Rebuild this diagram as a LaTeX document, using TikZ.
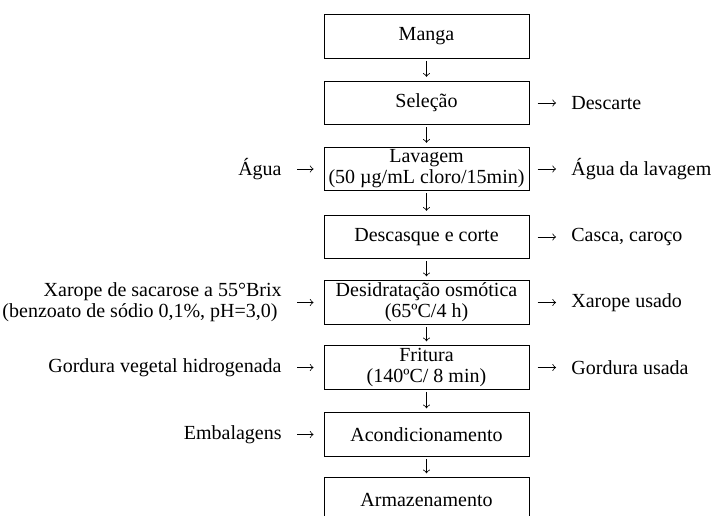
\documentclass[tikz,border=0pt]{standalone}
\usepackage{fontspec}
\setmainfont{Liberation Serif}
\newcommand{\boxtxt}[1]{\parbox[c][18pt][c]{100pt}{\centering #1}}
\begin{document}
\begin{tikzpicture}[x=0.5pt,y=-0.5pt,
  txt/.style={font=\fontsize{10}{10.5}\selectfont},
  box/.style={txt, draw, line width=0.5pt, minimum width=102.5pt, minimum height=21.75pt, inner sep=0pt},
  lab/.style={txt, inner sep=0pt},
  down/.style={-to, line width=0.4pt, shorten <=1pt, shorten >=2pt},
  inarr/.style={-to, line width=0.4pt, shorten <=7.5pt, shorten >=5pt},
  outarr/.style={-to, line width=0.4pt, shorten <=4pt, shorten >=7.5pt}]
\useasboundingbox (0,0) rectangle (712,515);
% main column
\node[box] (manga) at (426.5,36.5) {\boxtxt{Manga}};
\node[box] (sel) at (426.5,103) {\boxtxt{Seleção}};
\node[box] (lav) at (426.5,169) {\boxtxt{Lavagem\\(50 µg/mL cloro/15min)}};
\node[box] (desc) at (426.5,237) {\boxtxt{Descasque e corte}};
\node[box] (desid) at (426.5,302.5) {\boxtxt{Desidratação osmótica\\(65ºC/4 h)}};
\node[box] (frit) at (426.5,367.5) {\boxtxt{Fritura\\(140ºC/ 8 min)}};
\node[box] (acond) at (426.5,434.5) {\boxtxt{Acondicionamento}};
\node[box] (armaz) at (426.5,499.5) {\boxtxt{Armazenamento}};
% down arrows
\draw[down] (manga) -- (sel);
\draw[down] (sel) -- (lav);
\draw[down] (lav) -- (desc);
\draw[down] (desc) -- (desid);
\draw[down] (desid) -- (frit);
\draw[down] (frit) -- (acond);
\draw[down] (acond) -- (armaz);
% inputs
\node[lab, anchor=east] (agua) at (282,169) {Água};
\node[lab, anchor=east, align=right] (xar) at (282,302.5) {Xarope de sacarose a 55°Brix\\(benzoato de sódio 0,1\%, pH=3,0)\hspace*{2pt}};
\node[lab, anchor=east] (gord) at (282,367.5) {Gordura vegetal hidrogenada};
\node[lab, anchor=east] (emb) at (282,434.5) {Embalagens};
\draw[inarr] (agua) -- (lav);
\draw[inarr] (xar) -- (desid);
\draw[inarr] (gord) -- (frit);
\draw[inarr] (emb) -- (acond);
% outputs
\node[lab, anchor=west] (descarte) at (571,103) {Descarte};
\node[lab, anchor=west] (agualav) at (571,169) {Água da lavagem};
\node[lab, anchor=west] (casca) at (571,237) {Casca, caroço};
\node[lab, anchor=west] (xarusado) at (571,302.5) {Xarope usado};
\node[lab, anchor=west] (gordusada) at (571,367.5) {Gordura usada};
\draw[outarr] (sel) -- (descarte);
\draw[outarr] (lav) -- (agualav);
\draw[outarr] (desc) -- (casca);
\draw[outarr] (desid) -- (xarusado);
\draw[outarr] (frit) -- (gordusada);
\end{tikzpicture}
\end{document}
